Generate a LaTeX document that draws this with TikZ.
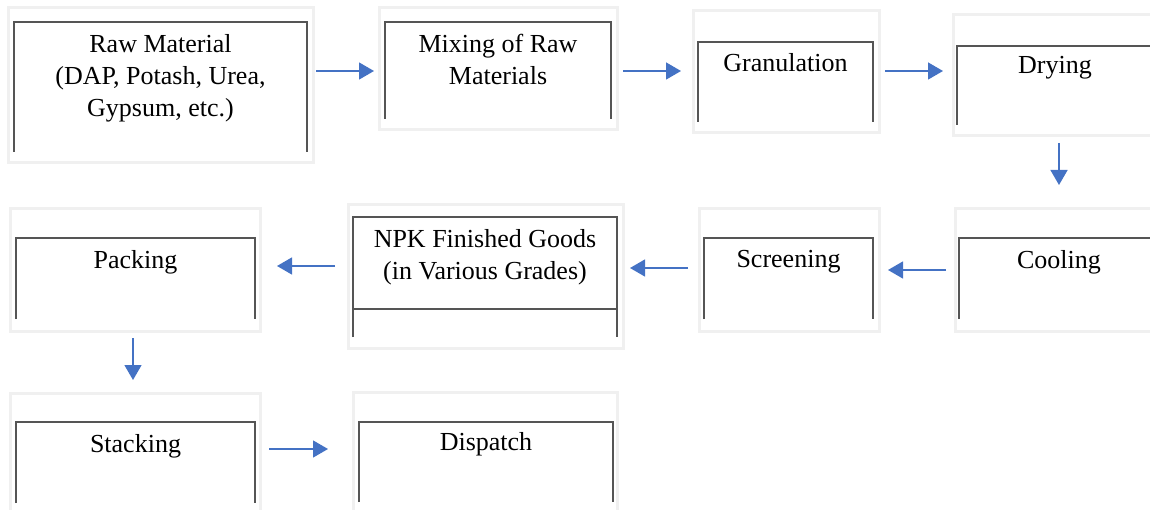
\documentclass[tikz,border=0pt]{standalone}
\usepackage{fontspec}
\setmainfont{Liberation Serif}
\usepackage{tikz}
\usetikzlibrary{arrows.meta}
\definecolor{framegray}{HTML}{F0F0F0}
\definecolor{walldark}{HTML}{555555}
\definecolor{flowblue}{HTML}{4472C4}
\tikzset{
	% ---- default
	every node/.style={font=\fontsize{26}{32}\selectfont},
	% ---- custom
	outerframe/.style={draw=framegray, line width=3pt, inner sep=0pt, outer sep=0pt, anchor=north west},
	wall/.style={draw=walldark, line width=1.5pt},
	steptext/.style={anchor=north, align=center, inner sep=0pt},
	flow/.style={draw=flowblue, line width=1.4pt, -{Triangle[length=15pt, width=17pt]}},
}

\begin{document}
\begin{tikzpicture}[x=1pt, y=-1pt]

% bounding box %{{{2

	\useasboundingbox (0,0) rectangle (1150,510);

% outer frames %{{{2

	\node[outerframe, minimum width=305, minimum height=155] (raw) at (8,8) {};
	\node[outerframe, minimum width=238, minimum height=122] (mix) at (379,8) {};
	\node[outerframe, minimum width=186, minimum height=122] (gran) at (693,11) {};
	\node[outerframe, minimum width=205, minimum height=121] (dry) at (953,15) {};
	\node[outerframe, minimum width=203, minimum height=122] (cool) at (955,209) {};
	\node[outerframe, minimum width=180, minimum height=122] (screen) at (699,209) {};
	\node[outerframe, minimum width=275, minimum height=143] (npk) at (348,205) {};
	\node[outerframe, minimum width=250, minimum height=122] (pack) at (10,209) {};
	\node[outerframe, minimum width=250, minimum height=122] (stack) at (10,393) {};
	\node[outerframe, minimum width=264, minimum height=123] (disp) at (353,392) {};

% inner boxes %{{{2

	\draw[wall] (14,152) |- (307,22) -- (307,152);
	\draw[wall] (385,119) |- (611,22) -- (611,119);
	\draw[wall] (698,122) |- (873,42) -- (873,122);
	\draw[wall] (957,125) |- (1153,46) -- (1153,125);
	\draw[wall] (959,319) |- (1159,238) -- (1159,319);
	\draw[wall] (704,319) |- (873,238) -- (873,319);
	\draw[wall] (353,337) |- (617,217) -- (617,337);
	\draw[wall] (353,309) -- (617,309);
	\draw[wall] (16,319) |- (255,238) -- (255,319);
	\draw[wall] (16,503) |- (255,422) -- (255,503);
	\draw[wall] (359,502) |- (613,422) -- (613,502);

% step texts %{{{2

	\node[steptext] (rawtxt) at (160.5,34) {Raw Material\\(DAP, Potash, Urea,\\Gypsum, etc.)};
	\node[steptext] (mixtxt) at (498,34) {Mixing of Raw\\Materials};
	\node[steptext] (grantxt) at (785.5,53) {Granulation};
	\node[steptext] (drytxt) at (1055,56) {Drying};
	\node[steptext] (cooltxt) at (1059,250) {Cooling};
	\node[steptext] (screentxt) at (788.5,250) {Screening};
	\node[steptext] (npktxt) at (485,229) {NPK Finished Goods\\(in Various Grades)};
	\node[steptext] (packtxt) at (135.5,250) {Packing};
	\node[steptext] (stacktxt) at (135.5,434) {Stacking};
	\node[steptext] (disptxt) at (486,432) {Dispatch};

% arrows %{{{2

	\draw[flow, shorten <=3, shorten >=5] (raw.east |- 0,71) -- (mix.west |- 0,71);
	\draw[flow, shorten <=6, shorten >=12] (mix.east |- 0,71) -- (gran.west |- 0,71);
	\draw[flow, shorten <=6, shorten >=10] (gran.east |- 0,71) -- (dry.west |- 0,71);
	\draw[flow, shorten <=7, shorten >=24] (dry.south -| 1059,0) -- (cool.north -| 1059,0);
	\draw[flow, shorten <=9, shorten >=9] (cool.west |- 0,270) -- (screen.east |- 0,270);
	\draw[flow, shorten <=11, shorten >=7] (screen.west |- 0,268) -- (npk.east |- 0,268);
	\draw[flow, shorten <=13, shorten >=17] (npk.west |- 0,266) -- (pack.east |- 0,266);
	\draw[flow, shorten <=7, shorten >=13] (pack.south -| 133,0) -- (stack.north -| 133,0);
	\draw[flow, shorten <=9, shorten >=25] (stack.east |- 0,449) -- (disp.west |- 0,449);

% closing %{{{2

\end{tikzpicture}
\end{document}
